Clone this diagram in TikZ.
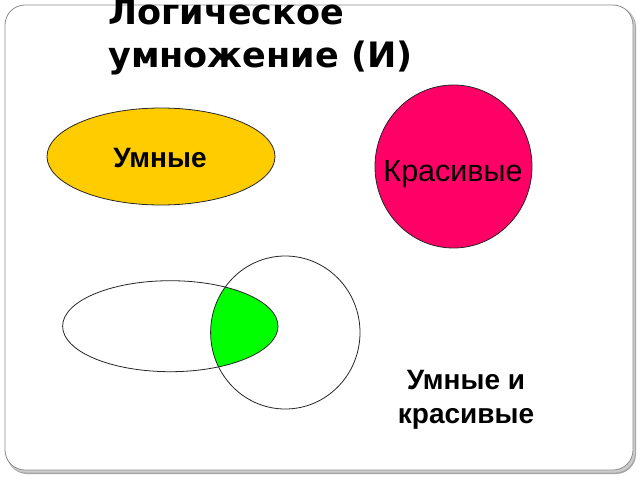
\documentclass[tikz,border=0pt]{standalone}
\usepackage{fontspec}
\setmainfont{Liberation Sans}
\newfontfamily\titlefont{DejaVu Sans}
\usetikzlibrary{shapes.geometric}
\definecolor{goldfill}{HTML}{FFCC00}
\definecolor{redfill}{HTML}{FF0066}
\definecolor{greenfill}{HTML}{00FF00}
\definecolor{framegray}{HTML}{8C8C8C}
\tikzset{
  setshape/.style={ellipse, draw=black!85, line width=0.8pt, inner sep=0pt},
  lbl/.style={font=\fontsize{28}{34}\selectfont\bfseries, align=center, inner sep=0pt},
  ttl/.style={anchor=base west, inner sep=0pt, font=\titlefont\fontsize{35}{46}\selectfont\bfseries}
}
\begin{document}
\begin{tikzpicture}[x=1pt,y=-1pt]
\useasboundingbox (0,0) rectangle (640,480);
\fill[white] (0,0) rectangle (640,480);
% frame with shadow
\fill[black!35, rounded corners=20pt] (7,7) rectangle (636,474);
\fill[black!20, rounded corners=20pt] (6,6) rectangle (635,472.5);
\draw[framegray, fill=white, line width=0.8pt, rounded corners=20pt] (5,5) rectangle (633,470);
% title
\node[ttl] (title) at (108,24) {Логическое};
\node[ttl] (title2) at (108,67) {умножение (И)};
% top sets
\node[setshape, fill=goldfill, minimum width=228pt, minimum height=97pt] (umnye) at (161,156.5) {};
\node[lbl, anchor=base] (umnyeL) at (160,167) {Умные};
\node[setshape, fill=redfill, minimum width=157pt, minimum height=163pt] (krasivye) at (453.5,166.5) {};
\node[inner sep=0pt, anchor=base, font=\fontsize{30.5}{34}\selectfont] (krasivyeL) at (453,181) {Красивые};
% bottom sets
\begin{scope}
\clip (170.3,326.2) ellipse [x radius=107.7pt, y radius=45.5pt];
\fill[greenfill] (285.3,332.5) ellipse [x radius=74.7pt, y radius=76.5pt];
\end{scope}
\node[setshape, minimum width=215.4pt, minimum height=91pt] (e1) at (170.3,326.2) {};
\node[setshape, minimum width=149.4pt, minimum height=153pt] (e2) at (285.3,332.5) {};
\node[lbl] (both) at (466,399.5) {Умные и\\красивые};
\end{tikzpicture}
\end{document}
